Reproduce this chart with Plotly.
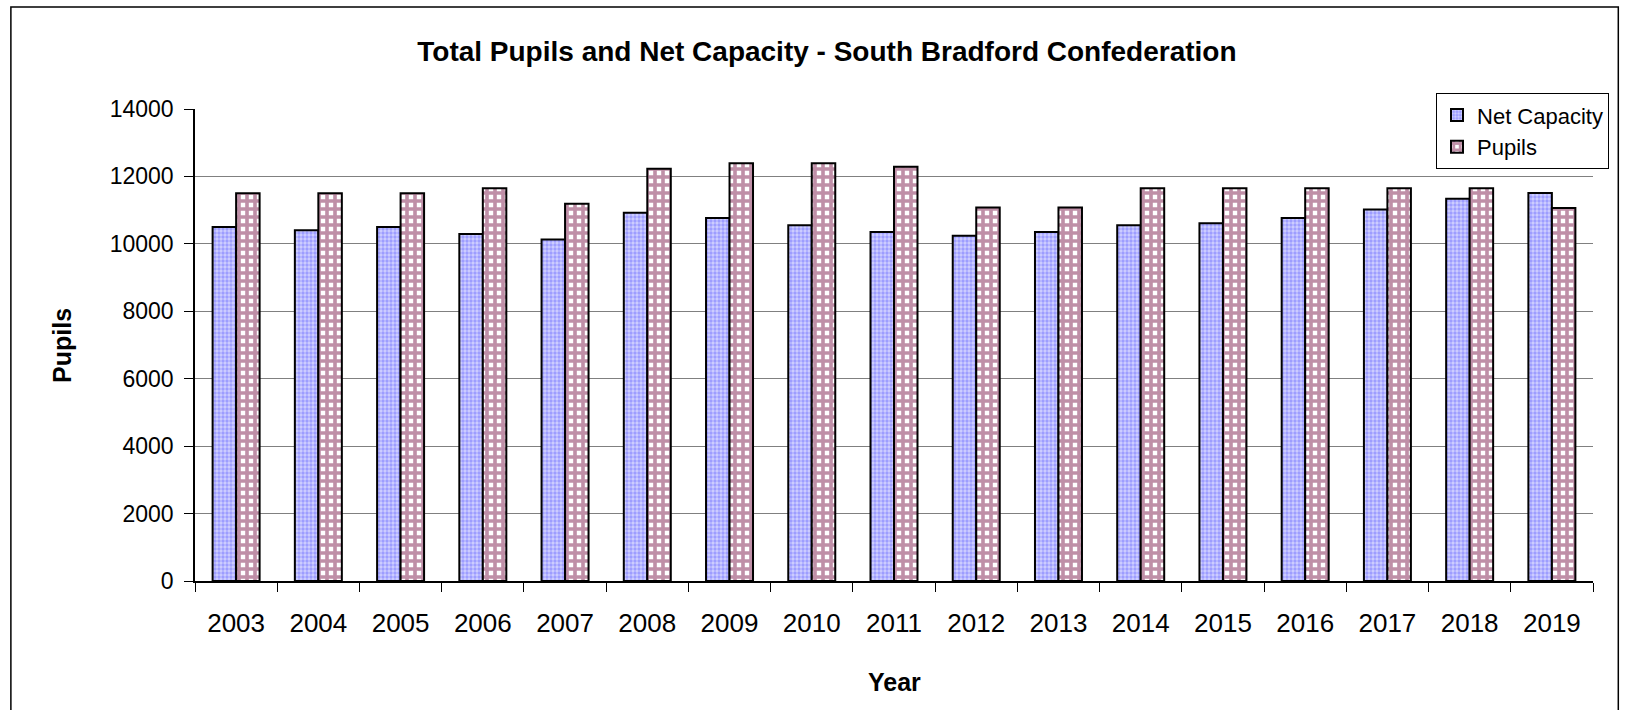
import plotly.graph_objects as go

years = ["2003", "2004", "2005", "2006", "2007", "2008", "2009", "2010", "2011",
         "2012", "2013", "2014", "2015", "2016", "2017", "2018", "2019"]
net_capacity = [10500, 10400, 10500, 10290, 10130, 10920, 10770, 10550, 10350,
                10240, 10350, 10550, 10610, 10770, 11020, 11340, 11510]
pupils = [11500, 11500, 11500, 11650, 11190, 12230, 12390, 12390, 12290,
          11080, 11080, 11650, 11650, 11650, 11650, 11650, 11060]

FONT = "Liberation Sans, Arial, sans-serif"

fig = go.Figure()
fig.add_trace(go.Bar(
    x=years, y=net_capacity, name="Net Capacity",
    marker=dict(color="#9999FF", line=dict(color="black", width=2),
                pattern=dict(shape=".", fgcolor="white", bgcolor="#9999FF",
                             size=4, solidity=0.55)),
))
fig.add_trace(go.Bar(
    x=years, y=pupils, name="Pupils",
    marker=dict(color="#993366", line=dict(color="black", width=2),
                pattern=dict(shape="+", fgcolor="#801F50", bgcolor="white",
                             size=8, solidity=0.7)),
))

fig.update_layout(
    width=1631, height=710,
    margin=dict(l=195, r=38, t=109, b=129),
    paper_bgcolor="white", plot_bgcolor="white",
    barmode="group", bargap=0.4286, bargroupgap=0,
    font=dict(family=FONT, size=22, color="black"),
    title=dict(text="<b>Total Pupils and Net Capacity - South Bradford Confederation</b>",
               x=0.507, xanchor="center", y=0.928, yanchor="middle",
               font=dict(family=FONT, size=28, color="black")),
    showlegend=True,
    legend=dict(x=0.8877, y=1.0333, xanchor="left", yanchor="top",
                bgcolor="white", bordercolor="black", borderwidth=1,
                font=dict(family=FONT, size=22), tracegroupgap=0,
                itemwidth=30),
    xaxis=dict(showline=True, linecolor="black", linewidth=1.5,
               ticks="outside", ticklen=9, tickcolor="black", tickson="boundaries",
               ticklabelstandoff=18, tickfont=dict(size=26), showgrid=False),
    yaxis=dict(range=[0, 14000], dtick=2000, tickformat="d", showline=True,
               linecolor="black", linewidth=1.5, ticks="outside", ticklen=9,
               tickcolor="black", ticklabelstandoff=6, showgrid=True,
               gridcolor="#808080", gridwidth=1, tickfont=dict(size=23),
               zeroline=False),
    annotations=[
        dict(text="<b>Pupils</b>", xref="paper", yref="paper", x=-0.0952, y=0.5,
             textangle=-90, showarrow=False, font=dict(size=25),
             xanchor="center", yanchor="middle"),
        dict(text="<b>Year</b>", xref="paper", yref="paper", x=0.5, y=-0.214,
             showarrow=False, font=dict(size=25), xanchor="center", yanchor="middle"),
    ],
    shapes=[
        dict(type="rect", xref="paper", yref="paper", x0=-0.1317, x1=1.0181,
             y0=-0.3, y1=1.2163, line=dict(color="black", width=1.5),
             fillcolor="rgba(0,0,0,0)", layer="below"),
    ],
)

fig.write_html("out.html", config={"displayModeBar": False},
               post_script="document.body.style.margin='0';document.body.style.padding='0';")
